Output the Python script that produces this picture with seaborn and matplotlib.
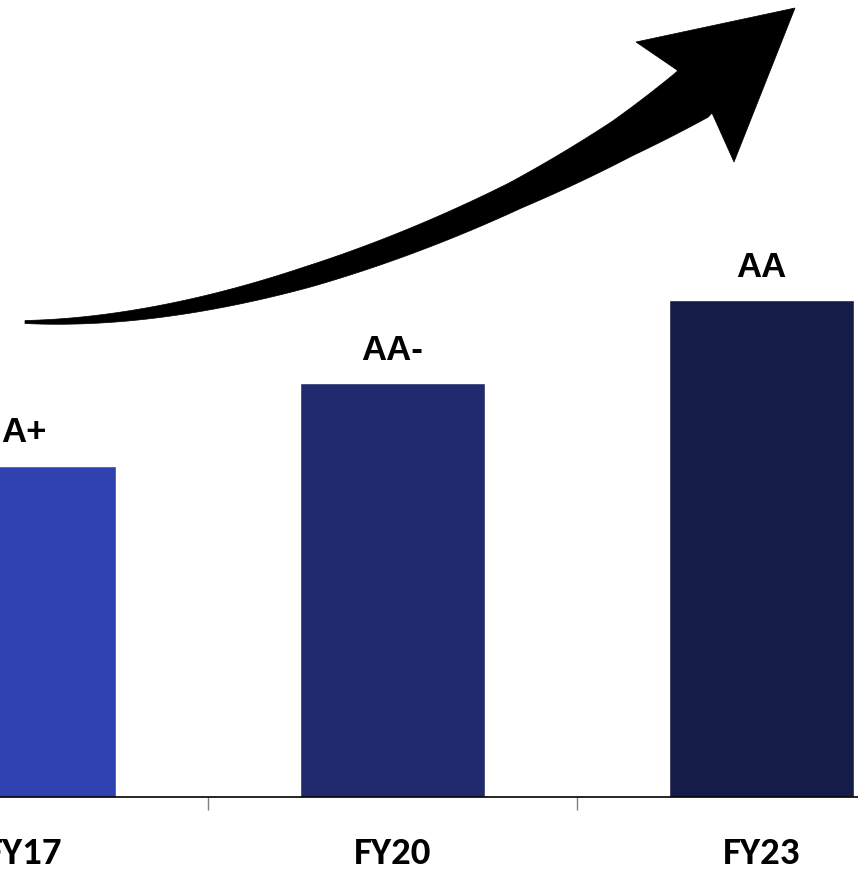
import numpy as np
import pandas as pd
import matplotlib
matplotlib.use("Agg")
import matplotlib.pyplot as plt
from matplotlib.patches import Polygon
import seaborn as sns

# ---- data ----
categories = ["FY17", "FY20", "FY23"]
rating_levels = [4, 5, 6]          # notch level of the rating
rating_labels = ["A+", "AA-", "AA"]
bar_colors = ["#3042AF", "#212A6E", "#161C48"]

df = pd.DataFrame({"year": categories, "level": rating_levels})

sns.set_theme(style="white")
plt.rcParams["font.family"] = ["Liberation Sans", "DejaVu Sans"]
plt.rcParams["text.color"] = "black"
plt.rcParams["xtick.color"] = "black"

W, H = 858, 875
fig = plt.figure(figsize=(W / 100, H / 100), dpi=100)
ax = fig.add_axes([0, 1 - 797 / H, 1, 797 / H])

sns.barplot(data=df, x="year", y="level", hue="year", palette=bar_colors,
            width=0.5, dodge=False, legend=False, ax=ax, saturation=1)

ax.set_xlim(-0.0637, 2.2615)
ax.set_ylim(0, 9.63)
ax.set_xlabel("")
ax.set_ylabel("")
ax.set_yticks([])

# ticks between categories, labels at category centres
ax.set_xticks([0.5, 1.5])
ax.set_xticklabels(["", ""])
ax.tick_params(axis="x", which="major", length=9, width=1, color="#808080",
               direction="out", bottom=True)
ax.set_xticks(range(len(categories)), minor=True)
ax.set_xticklabels(categories, minor=True, fontsize=28, fontweight="bold",
                   color="black",
                   family=["Carlito", "Roboto Condensed", "DejaVu Sans"])
ax.tick_params(axis="x", which="minor", length=0, pad=29, labelcolor="black")

for s in ["left", "right", "top"]:
    ax.spines[s].set_visible(False)
ax.spines["bottom"].set_color("black")
ax.spines["bottom"].set_linewidth(1.2)

for i, cont in enumerate(ax.containers):
    labs = [rating_labels[i]] if len(ax.containers) > 1 else rating_labels
    ax.bar_label(cont, labels=labs, fontsize=25, fontweight="bold",
                 padding=12, color="black",
                 family=["Liberation Sans", "DejaVu Sans"])

# ---- decorative rising arrow (figure pixel space) ----
P0 = np.array([25, 322.0]); P1 = np.array([250, 325.0])
P2 = np.array([520, 212.0]); P3 = np.array([696, 92.0])
t = np.linspace(0, 1, 160)[:, None]
c = (1 - t) ** 3 * P0 + 3 * (1 - t) ** 2 * t * P1 + 3 * (1 - t) * t ** 2 * P2 + t ** 3 * P3
d = 3 * (1 - t) ** 2 * (P1 - P0) + 6 * (1 - t) * t * (P2 - P1) + 3 * t ** 2 * (P3 - P2)
d = d / np.linalg.norm(d, axis=1, keepdims=True)
n = np.column_stack([d[:, 1], -d[:, 0]])
hw = np.interp(t[:, 0], [0, 0.15, 0.4, 0.7, 0.87, 1],
               [1.5, 5, 10.5, 14, 20, 28])[:, None]
upper = c + hw * n
lower = c - hw * n
upper[-1] = [677, 70]
lower[-1] = [712, 113]
head = np.array([[636, 42], [795, 8], [734, 162]])
pts = np.vstack([upper, head, lower[::-1]])
frac = np.column_stack([pts[:, 0] / W, 1 - pts[:, 1] / H])
fig.patches.append(Polygon(frac, closed=True, transform=fig.transFigure,
                           facecolor="black", edgecolor="black", lw=0.5))

fig.savefig("out.png", dpi=100)
